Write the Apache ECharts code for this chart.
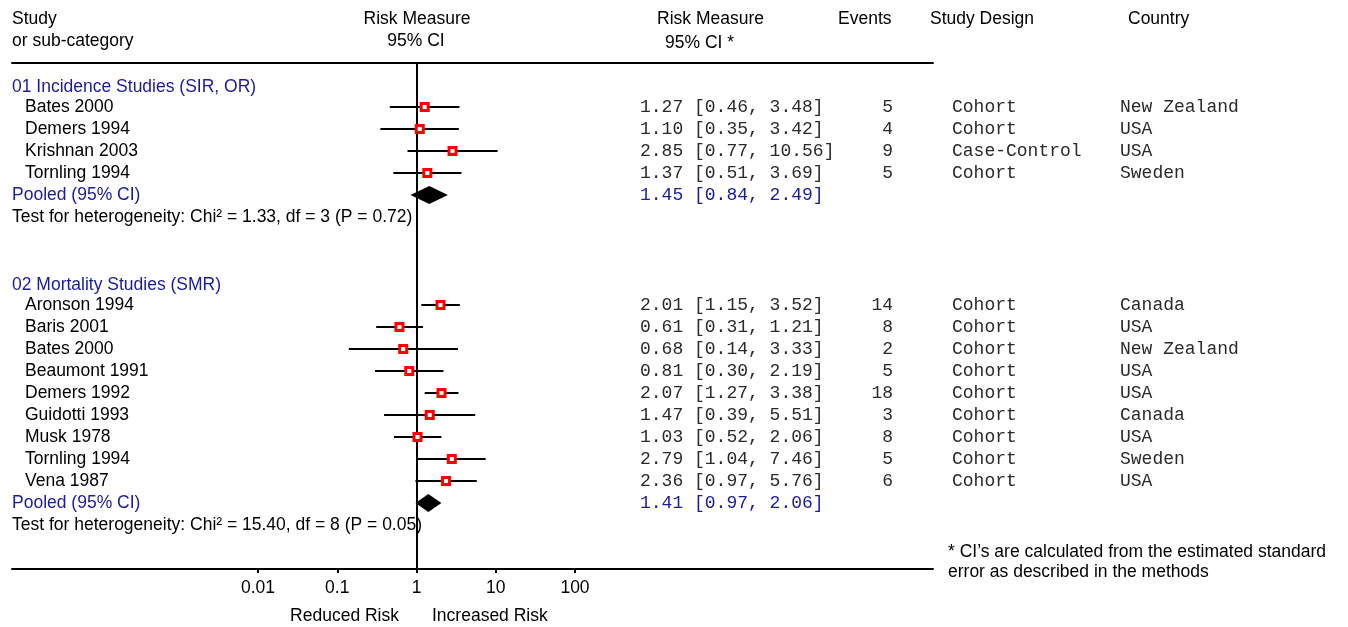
<!DOCTYPE html>
<html>
<head>
<meta charset="utf-8">
<script src="https://cdn.jsdelivr.net/npm/echarts@6/dist/echarts.min.js"></script>
<style>
html,body{margin:0;padding:0;background:#fff;}
#main{width:1348px;height:627px;}
</style>
</head>
<body>
<div id="main"></div>
<script>
// 資料 data
let incStudies = ['Bates 2000', 'Demers 1994', 'Krishnan 2003', 'Tornling 1994'];
let incEst = [1.27, 1.10, 2.85, 1.37];
let incLo = [0.46, 0.35, 0.77, 0.51];
let incHi = [3.48, 3.42, 10.56, 3.69];
let incEvents = [5, 4, 9, 5];
let incDesign = ['Cohort', 'Cohort', 'Case-Control', 'Cohort'];
let incCountry = ['New Zealand', 'USA', 'USA', 'Sweden'];
let incPooled = [1.45, 0.84, 2.49];

let mortStudies = ['Aronson 1994', 'Baris 2001', 'Bates 2000', 'Beaumont 1991', 'Demers 1992', 'Guidotti 1993', 'Musk 1978', 'Tornling 1994', 'Vena 1987'];
let mortEst = [2.01, 0.61, 0.68, 0.81, 2.07, 1.47, 1.03, 2.79, 2.36];
let mortLo = [1.15, 0.31, 0.14, 0.30, 1.27, 0.39, 0.52, 1.04, 0.97];
let mortHi = [3.52, 1.21, 3.33, 2.19, 3.38, 5.51, 2.06, 7.46, 5.76];
let mortEvents = [14, 8, 2, 5, 18, 3, 8, 5, 6];
let mortDesign = ['Cohort', 'Cohort', 'Cohort', 'Cohort', 'Cohort', 'Cohort', 'Cohort', 'Cohort', 'Cohort'];
let mortCountry = ['Canada', 'USA', 'New Zealand', 'USA', 'USA', 'Canada', 'USA', 'Sweden', 'USA'];
let mortPooled = [1.41, 0.97, 2.06];

let groupNames = ['01 Incidence Studies (SIR, OR)', '02 Mortality Studies (SMR)'];
let hetChi = ['1.33', '15.40'];
let hetDf = [3, 8];
let hetP = ['0.72', '0.05'];
let tickValues = [0.01, 0.1, 1, 10, 100];

// 版面 layout
const BLUE = '#1a1a9c';
const MONO_INK = '#2a2a2a';
const SANS = '17.5px "Liberation Sans", Arial, sans-serif';
const MONO = '18px "Liberation Mono", "Courier New", monospace';
const col = { group: 12, study: 25, ci: 640, events: 893, design: 952, country: 1120 };

let myChart = echarts.init(document.getElementById('main'));

let textItems = [];
let forestItems = [];
function addText(x, row, text, font, color, align) {
    textItems.push({ x: x, row: row, text: text, font: font, color: color || '#000', align: align || 'left' });
}
function fmt(e, l, h) {
    return e.toFixed(2) + ' [' + l.toFixed(2) + ', ' + h.toFixed(2) + ']';
}

// 表頭 header
addText(col.group, -3, 'Study', SANS);
addText(col.group, -2, 'or sub-category', SANS);
addText(417, -3, 'Risk Measure', SANS, '#000', 'center');
addText(416, -2, '95% CI', SANS, '#000', 'center');
addText(657, -3, 'Risk Measure', SANS);
addText(665, -1.9, '95% CI *', SANS);
addText(838, -3, 'Events', SANS);
addText(930, -3, 'Study Design', SANS);
addText(1128, -3, 'Country', SANS);

function addGroup(startRow, gi, names, est, lo, hi, ev, des, cty, pooled) {
    addText(col.group, startRow + 0.1, groupNames[gi], SANS, BLUE);
    for (let i = 0; i < names.length; i++) {
        let r = startRow + 1 + i;
        addText(col.study, r, names[i], SANS);
        addText(col.ci, r, fmt(est[i], lo[i], hi[i]), MONO, MONO_INK);
        addText(col.events, r, String(ev[i]), MONO, MONO_INK, 'right');
        addText(col.design, r, des[i], MONO, MONO_INK);
        addText(col.country, r, cty[i], MONO, MONO_INK);
        forestItems.push([lo[i], est[i], hi[i], r, 0]);
    }
    let pr = startRow + 1 + names.length;
    addText(col.group, pr, 'Pooled (95% CI)', SANS, BLUE);
    addText(col.ci, pr, fmt(pooled[0], pooled[1], pooled[2]), MONO, BLUE);
    forestItems.push([pooled[1], pooled[0], pooled[2], pr, 1]);
    addText(col.group, pr + 1, 'Test for heterogeneity: Chi\u00b2 = ' + hetChi[gi] + ', df = ' + hetDf[gi] + ' (P = ' + hetP[gi] + ')', SANS);
}
addGroup(0, 0, incStudies, incEst, incLo, incHi, incEvents, incDesign, incCountry, incPooled);
addGroup(9, 1, mortStudies, mortEst, mortLo, mortHi, mortEvents, mortDesign, mortCountry, mortPooled);

// 註腳 footnotes
addText(948, 21.25, '* CI\u2019s are calculated from the estimated standard', SANS);
addText(948, 22.15, 'error as described in the methods', SANS);
addText(399, 24.15, 'Reduced Risk', SANS, '#000', 'right');
addText(432, 24.15, 'Increased Risk', SANS);

function drawChart() {
    let gridTop = 63, gridH = 506;
    let option = {
        animation: false,
        backgroundColor: '#fff',
        grid: [
            { left: 12, width: 921, top: gridTop, height: gridH },   // 表格線
            { left: 258, width: 317, top: gridTop, height: gridH },  // 森林圖
            { left: 0, right: 0, top: gridTop, height: gridH }       // 文字
        ],
        xAxis: [
            {
                gridIndex: 0, type: 'value', min: 0, max: 1, position: 'bottom',
                axisLine: { onZero: false, lineStyle: { color: '#000', width: 2 } },
                axisTick: { show: false }, axisLabel: { show: false }, splitLine: { show: false }
            },
            {
                gridIndex: 0, type: 'value', min: 0, max: 1, position: 'top',
                axisLine: { onZero: false, lineStyle: { color: '#000', width: 2 } },
                axisTick: { show: false }, axisLabel: { show: false }, splitLine: { show: false }
            },
            {
                gridIndex: 1, type: 'log', logBase: 10, min: tickValues[0], max: tickValues[tickValues.length - 1],
                position: 'bottom',
                axisLine: { onZero: false, lineStyle: { color: '#000', width: 2 } },
                axisTick: { show: true, length: 4, lineStyle: { color: '#000', width: 2 } },
                axisLabel: {
                    margin: 10, color: '#000', fontSize: 17.5, fontFamily: '"Liberation Sans", Arial, sans-serif',
                    formatter: function (v) { return String(+v.toPrecision(3)); }
                },
                splitLine: { show: false }
            },
            {
                gridIndex: 2, type: 'value', min: 0, max: 1348, show: false
            }
        ],
        yAxis: [
            { gridIndex: 0, type: 'value', min: -1, max: 22, inverse: true, show: false },
            { gridIndex: 1, type: 'value', min: -1, max: 22, inverse: true, show: false },
            { gridIndex: 2, type: 'value', min: -1, max: 22, inverse: true, show: false }
        ],
        series: [
            {
                name: 'text',
                type: 'custom',
                xAxisIndex: 3,
                yAxisIndex: 2,
                silent: true,
                data: textItems.map(function (t) { return [t.x, t.row]; }),
                renderItem: function (params, api) {
                    let t = textItems[params.dataIndex];
                    let p = api.coord([t.x, t.row]);
                    return {
                        type: 'text',
                        x: p[0], y: p[1],
                        style: {
                            text: t.text, font: t.font, fill: t.color,
                            align: t.align, verticalAlign: 'middle'
                        }
                    };
                }
            },
            {
                name: 'forest',
                type: 'custom',
                xAxisIndex: 2,
                yAxisIndex: 1,
                silent: true,
                z: 5,
                data: forestItems,
                renderItem: function (params, api) {
                    let lo = api.coord([api.value(0), api.value(3)]);
                    let es = api.coord([api.value(1), api.value(3)]);
                    let hi = api.coord([api.value(2), api.value(3)]);
                    if (api.value(4) === 1) {
                        return {
                            type: 'polygon',
                            shape: { points: [[lo[0], lo[1]], [es[0], es[1] - 9], [hi[0], hi[1]], [es[0], es[1] + 9]] },
                            style: { fill: '#000' }
                        };
                    }
                    let s = 7;
                    return {
                        type: 'group',
                        children: [
                            {
                                type: 'line',
                                shape: { x1: lo[0], y1: lo[1], x2: hi[0], y2: hi[1] },
                                style: { stroke: '#000', lineWidth: 2 }
                            },
                            {
                                type: 'rect',
                                shape: { x: es[0] - s / 2, y: es[1] - s / 2, width: s, height: s },
                                style: { fill: '#fff', stroke: '#ff0000', lineWidth: 3 }
                            }
                        ]
                    };
                },
                markLine: {
                    silent: true,
                    symbol: 'none',
                    label: { show: false },
                    lineStyle: { color: '#000', width: 2, type: 'solid' },
                    data: [{ xAxis: 1 }]
                }
            }
        ]
    };
    myChart.setOption(option);
}
drawChart();

window.onresize = function () {
    myChart.resize();
};
</script>
</body>
</html>
